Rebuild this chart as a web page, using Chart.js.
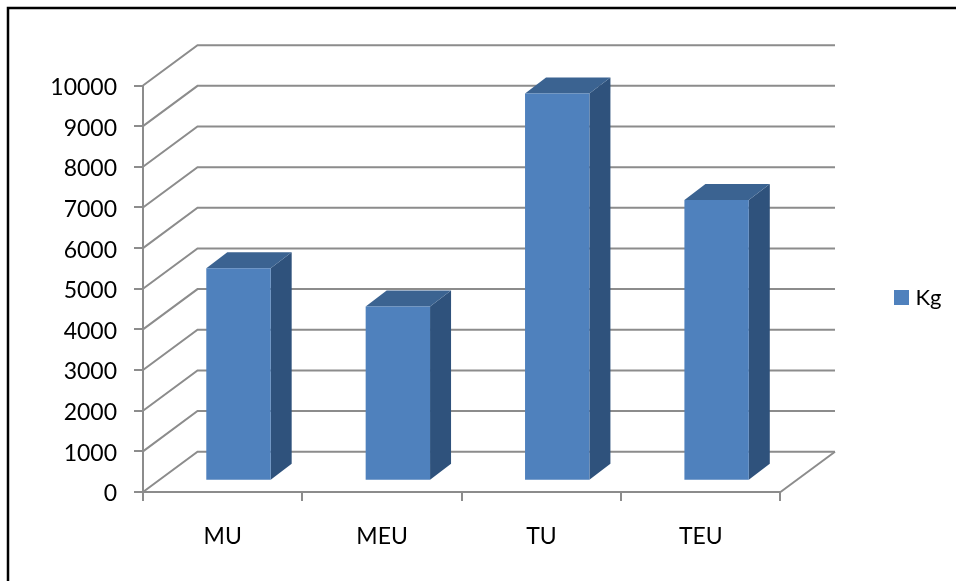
<!DOCTYPE html>
<html>
<head>
<meta charset="utf-8">
<title>Kg</title>
<style>
html, body { margin: 0; padding: 0; background: #fff; }
canvas { display: block; }
</style>
<script src="https://cdn.jsdelivr.net/npm/chart.js@4"></script>
</head>
<body>
<canvas id="chart" width="956" height="581"></canvas>
<script>
var categories = ['MU', 'MEU', 'TU', 'TEU'];
var seriesName = 'Kg';
var kgValues = [5230, 4290, 9530, 6910];
var yMax = 10000;
var yStep = 1000;

// depth of the fake 3d box
var wallDx = 54.5, wallDy = 40.3;
var barShiftX = 15.8, barShiftY = 11.2;
var barDx = 21, barDy = 16;
var gridColor = '#8c8c8c';

function line(ctx, pts) {
    ctx.beginPath();
    ctx.moveTo(pts[0][0], pts[0][1]);
    for (var i = 1; i < pts.length; i++) ctx.lineTo(pts[i][0], pts[i][1]);
    ctx.stroke();
}

function face(ctx, color, pts) {
    ctx.fillStyle = color;
    ctx.beginPath();
    ctx.moveTo(pts[0][0], pts[0][1]);
    for (var i = 1; i < pts.length; i++) ctx.lineTo(pts[i][0], pts[i][1]);
    ctx.closePath();
    ctx.fill();
}

var box3d = {
    id: 'box3d',
    afterLayout: function(chart) {
        // put the legend where the reference has it
        var lg = chart.legend;
        lg.left = 888.5;
        lg.right = lg.left + lg.width;
        lg.top = 197.5;
        lg.bottom = 397.5;
    },
    beforeDraw: function(chart) {
        var ctx = chart.ctx;
        ctx.save();
        ctx.strokeStyle = '#000';
        ctx.lineWidth = 2.5;
        line(ctx, [[8, 581], [8, 8], [956, 8]]);
        ctx.restore();
    },
    beforeDatasetsDraw: function(chart) {
        var ctx = chart.ctx;
        var y = chart.scales.y, a = chart.chartArea;
        ctx.save();
        ctx.strokeStyle = gridColor;
        ctx.lineWidth = 2;
        y.ticks.forEach(function(t) {
            var py = y.getPixelForValue(t.value);
            line(ctx, [[a.left, py], [a.left + wallDx, py - wallDy], [a.right + wallDx, py - wallDy]]);
        });
        // floor right edge
        var base = y.getPixelForValue(0);
        line(ctx, [[a.right, base], [a.right + wallDx, base - wallDy]]);
        // bar sides and tops
        chart.getDatasetMeta(0).data.forEach(function(bar) {
            var l = bar.x - bar.width / 2 + barShiftX;
            var r = bar.x + bar.width / 2 + barShiftX;
            var top = bar.y - barShiftY;
            var bot = bar.base - barShiftY;
            face(ctx, '#2f527c', [[r, top], [r + barDx, top - barDy], [r + barDx, bot - barDy], [r, bot]]);
            face(ctx, '#3b6391', [[l, top], [l + barDx, top - barDy], [r + barDx, top - barDy], [r, top]]);
        });
        ctx.translate(barShiftX, -barShiftY);
    },
    afterDatasetsDraw: function(chart) {
        chart.ctx.restore();
    }
};

new Chart(document.getElementById('chart'), {
    type: 'bar',
    data: {
        labels: categories,
        datasets: [{
            label: seriesName,
            data: kgValues,
            backgroundColor: '#4f81bd',
            borderWidth: 0,
            barPercentage: 0.404,
            categoryPercentage: 1
        }]
    },
    options: {
        responsive: false,
        animation: false,
        layout: { padding: { left: 0, top: 85.5, right: 112.5, bottom: 0 } },
        plugins: {
            tooltip: { enabled: false },
            legend: {
                position: 'right',
                labels: {
                    // narrow box width keeps Kg close to the square, as in the reference
                    usePointStyle: true,
                    pointStyle: 'rect',
                    boxWidth: 6,
                    boxHeight: 15,
                    color: '#000',
                    font: { family: 'Lato', size: 22 }
                }
            }
        },
        scales: {
            x: {
                afterFit: function(s) { s.height = 89; },
                grid: { drawOnChartArea: false, color: gridColor, lineWidth: 2, tickLength: 9, offset: true },
                border: { color: gridColor, width: 2 },
                ticks: { color: '#000', padding: 22, maxRotation: 0, font: { family: 'Lato', size: 23 } }
            },
            y: {
                min: 0,
                max: yMax,
                afterFit: function(s) { s.width = 143; },
                grid: { drawOnChartArea: false, color: gridColor, lineWidth: 2, tickLength: 9 },
                border: { color: gridColor, width: 2 },
                ticks: {
                    color: '#000',
                    padding: 17,
                    stepSize: yStep,
                    labelOffset: 2,
                    font: { family: 'Lato', size: 23 },
                    callback: function(v) { return String(v); }
                }
            }
        }
    },
    plugins: [box3d]
});
</script>
</body>
</html>
